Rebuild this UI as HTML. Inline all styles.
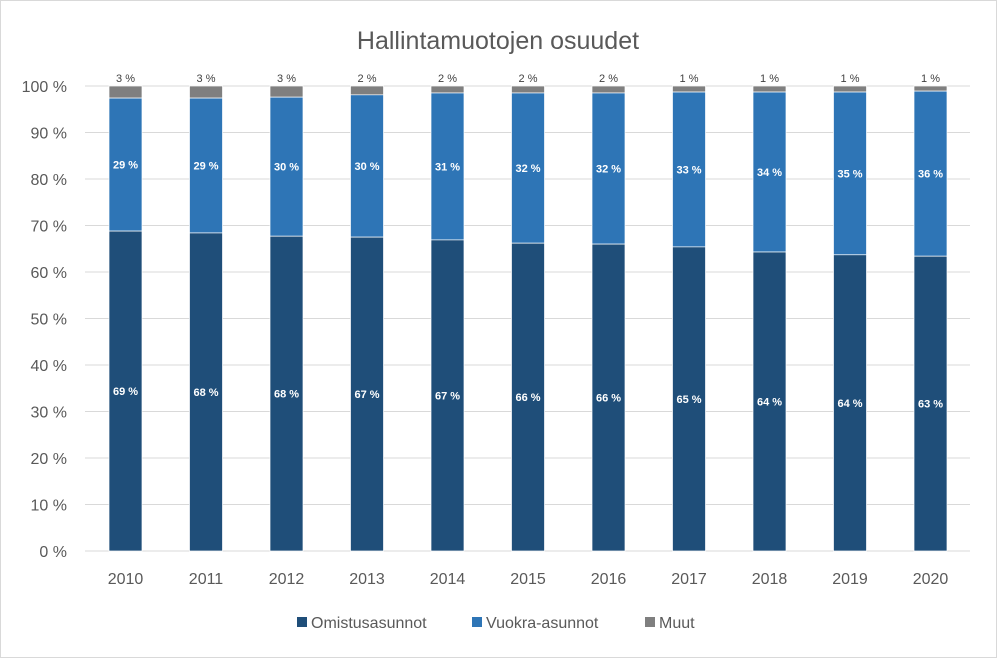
<!DOCTYPE html>
<html><head><meta charset="utf-8"><style>
body{margin:0;background:#fff}
svg{display:block}
text{font-family:"Liberation Sans",sans-serif}
</style></head><body>
<svg width="997" height="658" xmlns="http://www.w3.org/2000/svg">
<rect x="0.5" y="0.5" width="996" height="657" fill="#fff" stroke="#d9d9d9"/>
<text x="498" y="49" font-size="25" fill="#595959" text-anchor="middle">Hallintamuotojen osuudet</text>
<g id="grid" stroke="#d9d9d9" stroke-width="1"></g>
<g id="ylab" font-size="16" fill="#595959" text-anchor="end"></g>
<g id="bars"></g>
<g font-size="16" fill="#595959">
<rect x="297" y="617" width="10" height="10" fill="#1F4E79"/><text x="311" y="628">Omistusasunnot</text>
<rect x="472" y="617" width="10" height="10" fill="#2E75B6"/><text x="486" y="628">Vuokra-asunnot</text>
<rect x="645" y="617" width="10" height="10" fill="#7F7F7F"/><text x="659" y="628">Muut</text>
</g>
</svg>
<script>
const ns="http://www.w3.org/2000/svg";
function el(p,t,a,txt){const e=document.createElementNS(ns,t);for(const k in a)e.setAttribute(k,a[k]);if(txt!=null)e.textContent=txt;document.getElementById(p).appendChild(e);return e;}
const y0=551,s=4.65;
for(let i=0;i<=10;i++){const y=y0-i*10*s;el("grid","line",{x1:85,x2:970,y1:y,y2:y});el("ylab","text",{x:67,y:y+6},(i*10)+" %");}
const years=[2010,2011,2012,2013,2014,2015,2016,2017,2018,2019,2020];
const om=[68.8,68.4,67.7,67.5,66.9,66.2,66,65.4,64.3,63.7,63.4];
const vu=[97.4,97.4,97.6,98.1,98.5,98.5,98.5,98.7,98.7,98.7,98.9];
const oml=[69,68,68,67,67,66,66,65,64,64,63],vul=[29,29,30,30,31,32,32,33,34,35,36],mul=[3,3,3,2,2,2,2,1,1,1,1];
years.forEach((yr,i)=>{const cx=125.5+i*80.5,w=33,x=cx-w/2;
const yo=y0-om[i]*s,yv=y0-vu[i]*s,yt=y0-100*s;
el("bars","rect",{x:x,y:yt,width:w,height:yv-yt,fill:"#7F7F7F",stroke:"#fff","stroke-width":0.7});
el("bars","rect",{x:x,y:yv,width:w,height:yo-yv,fill:"#2E75B6",stroke:"#fff","stroke-width":0.7});
el("bars","rect",{x:x,y:yo,width:w,height:y0-yo,fill:"#1F4E79",stroke:"#fff","stroke-width":0.7});
el("bars","text",{x:cx,y:(yo+y0)/2+4,"font-size":11,"font-weight":"bold",fill:"#fff","text-anchor":"middle"},oml[i]+" %");
el("bars","text",{x:cx,y:(yo+yv)/2+4,"font-size":11,"font-weight":"bold",fill:"#fff","text-anchor":"middle"},vul[i]+" %");
el("bars","text",{x:cx,y:82,"font-size":11,fill:"#404040","text-anchor":"middle"},mul[i]+" %");
el("bars","text",{x:cx,y:584,"font-size":16,fill:"#595959","text-anchor":"middle"},yr);
});
</script>
</body></html>
